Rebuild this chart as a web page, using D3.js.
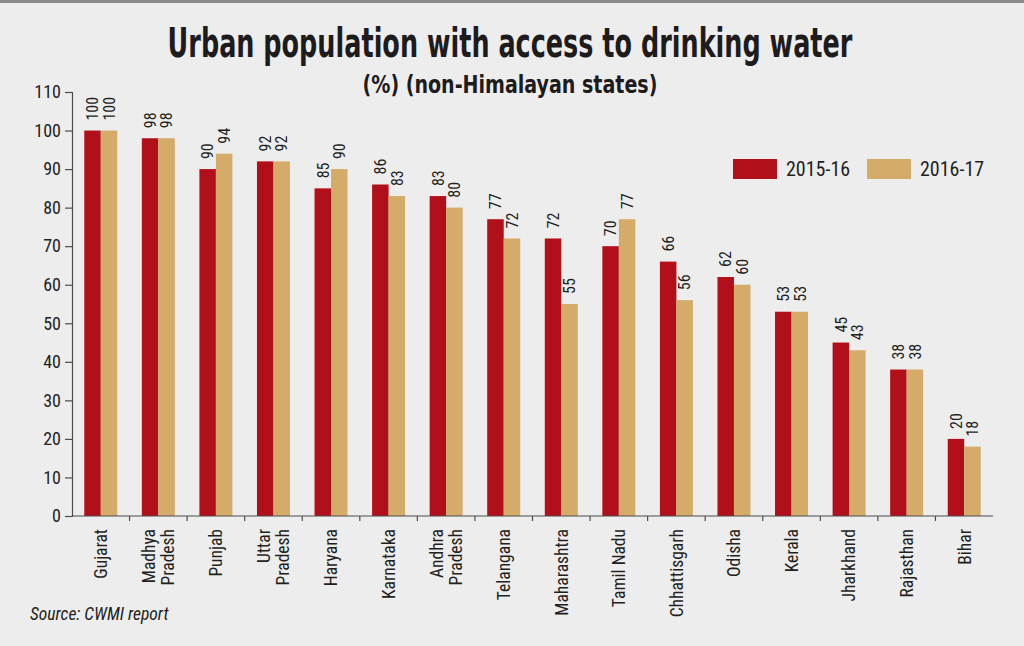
<!DOCTYPE html>
<html>
<head>
<meta charset="utf-8">
<script src="https://cdn.jsdelivr.net/npm/d3@7"></script>
<style>
  body { margin: 0; background: #eeedee; }
  svg { display: block; }
  .narrow { font-family: "Liberation Sans Narrow", "Arial Narrow", "Roboto Condensed", "DejaVu Sans Condensed", sans-serif; fill: #231f20; }
  .title { font-family: "DejaVu Sans Condensed", "DejaVu Sans", sans-serif; font-weight: bold; fill: #1d1b1c; }
</style>
</head>
<body>
<script>
// chart values
var states = ["Gujarat", "Madhya Pradesh", "Punjab", "Uttar Pradesh", "Haryana", "Karnataka",
              "Andhra Pradesh", "Telangana", "Maharashtra", "Tamil Nadu", "Chhattisgarh",
              "Odisha", "Kerala", "Jharkhand", "Rajasthan", "Bihar"];
var years = ["2015-16", "2016-17"];
var v1516 = [100, 98, 90, 92, 85, 86, 83, 77, 72, 70, 66, 62, 53, 45, 38, 20];
var v1617 = [100, 98, 94, 92, 90, 83, 80, 72, 55, 77, 56, 60, 53, 43, 38, 18];
var yTicks = [0, 10, 20, 30, 40, 50, 60, 70, 80, 90, 100, 110];

var colors = ["#b10f1a", "#d5ab69"];

var W = 1024, H = 646;
var margin = {top: 92, right: 31, bottom: 130, left: 72};

var svg = d3.select("body").append("svg")
    .attr("width", W)
    .attr("height", H);

svg.append("rect").attr("width", W).attr("height", H).attr("fill", "#eeedee");
// thin grey rule on top edge
svg.append("line")
    .attr("x1", 0).attr("x2", W).attr("y1", 1.5).attr("y2", 1.5)
    .attr("stroke", "#8a8a8a").attr("stroke-width", 3);

var x = d3.scaleBand()
    .domain(states)
    .range([margin.left, W - margin.right])
    .padding(0);

var y = d3.scaleLinear()
    .domain([0, 110])
    .range([H - margin.bottom, margin.top]);

var barW = 16.5;
var inner = d3.scaleBand().domain(years).range([-barW, barW]);

// ---- title ----
// squeeze a text horizontally so it fills the given width, centred at cx
function fitText(sel, cx, w) {
    var natural = sel.node().getComputedTextLength();
    var k = Math.min(1, w / natural);
    sel.attr("text-anchor", "middle")
       .attr("transform", "translate(" + cx + "," + sel.attr("data-y") + ") scale(" + k + ",1)");
}

var title = svg.append("text")
    .attr("class", "title")
    .attr("data-y", 57)
    .attr("font-size", 40)
    .text("Urban population with access to drinking water");
fitText(title, 510, 685);

var subtitle = svg.append("text")
    .attr("class", "title")
    .attr("data-y", 93)
    .attr("font-size", 24)
    .text("(%) (non-Himalayan states)");
fitText(subtitle, 510, 295);

// ---- bars ----
var rows = states.map(function(s, i) {
    return {state: s, vals: [{yr: years[0], v: v1516[i]}, {yr: years[1], v: v1617[i]}]};
});

var groups = svg.append("g")
    .selectAll("g")
    .data(rows)
    .enter().append("g")
    .attr("transform", function(d) { return "translate(" + (x(d.state) + x.bandwidth() / 2) + ",0)"; });

groups.selectAll("rect")
    .data(function(d) { return d.vals; })
    .enter().append("rect")
    .attr("x", function(d) { return inner(d.yr); })
    .attr("y", function(d) { return y(d.v); })
    .attr("width", inner.bandwidth())
    .attr("height", function(d) { return y(0) - y(d.v); })
    .attr("fill", function(d, i) { return colors[i]; });

// value labels, rotated
groups.selectAll(".val")
    .data(function(d) { return d.vals; })
    .enter().append("text")
    .attr("class", "val narrow")
    .attr("font-size", 16)
    .attr("text-anchor", "start")
    .attr("dy", "0.36em")
    .attr("transform", function(d) {
        return "translate(" + (inner(d.yr) + inner.bandwidth() / 2) + "," + (y(d.v) - 10) + ") rotate(-90)";
    })
    .text(function(d) { return d.v; });

// ---- y axis ----
var yAxis = svg.append("g")
    .attr("transform", "translate(" + margin.left + ",0)")
    .call(d3.axisLeft(y).tickValues(yTicks).tickSize(7).tickPadding(4));
yAxis.selectAll("path, line").attr("stroke", "#4d4d4d").attr("stroke-width", 1.2);
yAxis.selectAll("text")
    .attr("class", "narrow")
    .attr("font-size", 18)
    .attr("fill", "#231f20");

// ---- x axis ----
var xAxis = svg.append("g").attr("transform", "translate(0," + y(0) + ")");
xAxis.append("line")
    .attr("x1", x.range()[0]).attr("x2", x.range()[1])
    .attr("stroke", "#4d4d4d").attr("stroke-width", 1.2);
xAxis.selectAll(".tick")
    .data(states.slice(1))
    .enter().append("line")
    .attr("x1", function(d) { return x(d); })
    .attr("x2", function(d) { return x(d); })
    .attr("y1", 0).attr("y2", 5)
    .attr("stroke", "#4d4d4d").attr("stroke-width", 1.2);

var lineGap = 19;
xAxis.selectAll(".cat")
    .data(states)
    .enter().append("text")
    .attr("class", "cat narrow")
    .attr("font-size", 17.5)
    .attr("text-anchor", "end")
    .attr("transform", function(d) {
        return "translate(" + (x(d) + x.bandwidth() / 2) + ",13) rotate(-90)";
    })
    .each(function(d) {
        var words = d.split(" ");
        var lines = (words.length > 1 && words[1] === "Pradesh") ? [words[0], words[1]] : [d];
        var t = d3.select(this);
        lines.forEach(function(l, i) {
            t.append("tspan")
                .attr("x", 0)
                .attr("dy", i === 0 ? (0.36 - (lines.length - 1) * lineGap / 2 / 17.5) + "em" : lineGap)
                .text(l);
        });
    });

// ---- legend ----
var legend = svg.append("g")
    .selectAll("g")
    .data(years)
    .enter().append("g")
    .attr("transform", function(d, i) { return "translate(" + (733 + i * 134) + ",159)"; });
legend.append("rect")
    .attr("width", 44).attr("height", 20)
    .attr("fill", function(d, i) { return colors[i]; });
legend.append("text")
    .attr("class", "narrow")
    .attr("x", 53).attr("y", 17)
    .attr("font-size", 20)
    .text(function(d) { return d; });

// ---- source ----
svg.append("text")
    .attr("class", "narrow")
    .attr("x", 30).attr("y", 620)
    .attr("font-size", 17.5)
    .attr("font-style", "italic")
    .text("Source: CWMI report");
</script>
</body>
</html>
